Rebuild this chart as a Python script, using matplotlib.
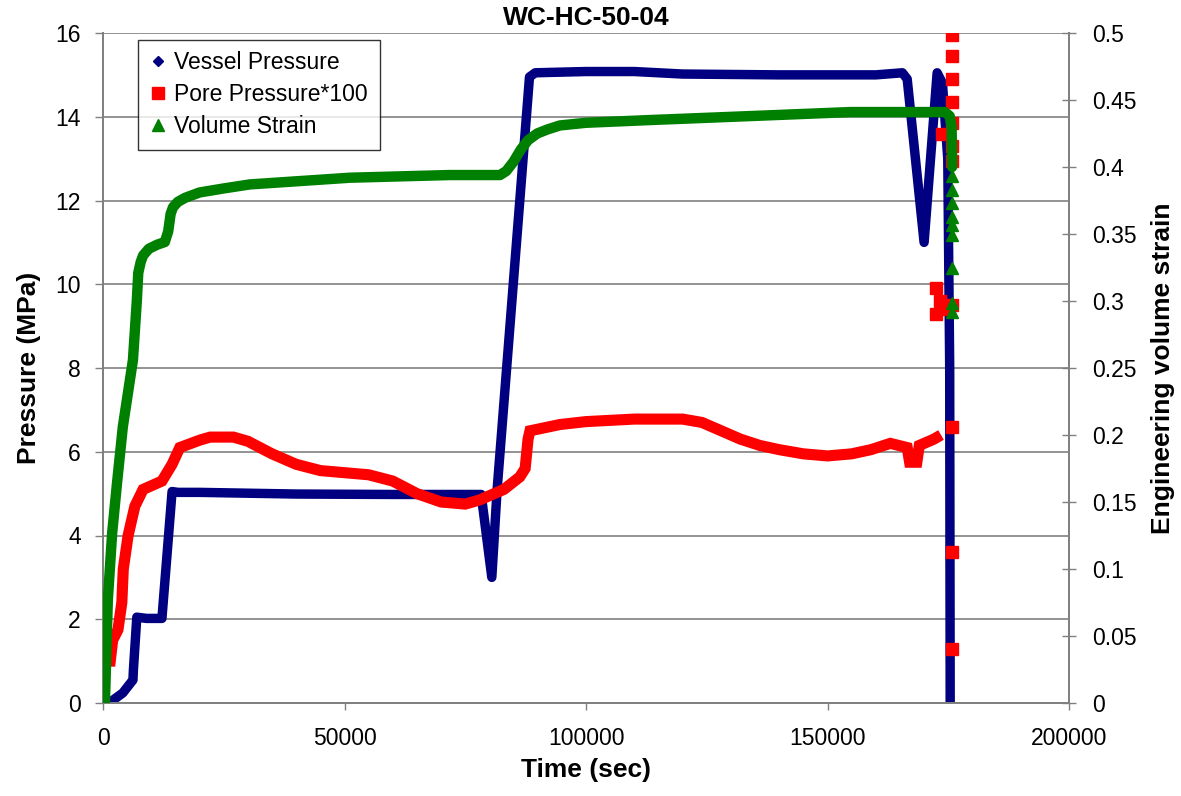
import matplotlib
matplotlib.use("Agg")
import matplotlib.pyplot as plt
from matplotlib.lines import Line2D

plt.rcParams['font.family'] = ['Liberation Sans', 'DejaVu Sans']

title = "WC-HC-50-04"
xlabel = "Time (sec)"
ylabel_left = "Pressure (MPa)"
ylabel_right = "Engineering volume strain"
series_names = ["Vessel Pressure", "Pore Pressure*100", "Volume Strain"]

# Vessel pressure (MPa)
vessel_t = [0, 1500, 4100, 6200, 6300, 7000, 9000, 12200, 14300, 15500, 20000, 40000, 60000,
            78300, 80500, 81600, 88300, 89500, 100000, 110000, 120000, 140000, 160000,
            165500, 166500, 170000, 172700, 173800, 174900, 175300, 175400]
vessel_p = [0.0, 0.02, 0.24, 0.55, 0.8, 2.05, 2.02, 2.02, 5.05, 5.03, 5.03, 4.99, 4.98,
            4.98, 3.0, 5.1, 14.95, 15.05, 15.08, 15.08, 15.02, 15.0, 15.0,
            15.05, 14.9, 11.0, 15.05, 14.8, 13.0, 8.0, 0.0]

# Pore pressure * 100 (MPa)
pore_t = [0, 1500, 2000, 3100, 3900, 4200, 5200, 6600, 8300, 12200, 14300, 15900, 20100,
          22200, 27000, 30000, 35000, 40000, 45000, 50000, 55000, 60000, 65000, 70000,
          75000, 78000, 80000, 83000, 86300, 87400, 88000, 88400, 94600, 100000, 110000,
          120000, 124000, 128000, 132000, 136000, 140000, 145000, 150000, 155000, 159000,
          163000, 166500, 167000, 168500, 169000, 172000, 173500]
pore_p = [1.0, 1.0, 1.5, 1.75, 2.4, 3.2, 4.0, 4.7, 5.1, 5.3, 5.7, 6.1, 6.28,
          6.35, 6.35, 6.25, 5.95, 5.7, 5.55, 5.5, 5.45, 5.3, 5.0, 4.8,
          4.75, 4.85, 4.95, 5.1, 5.4, 5.6, 6.3, 6.5, 6.65, 6.72, 6.78,
          6.78, 6.7, 6.5, 6.3, 6.15, 6.05, 5.95, 5.9, 5.95, 6.05,
          6.2, 6.1, 5.75, 5.75, 6.15, 6.3, 6.4]
# Pore pressure scattered points at the end of the test
pore_tail_t = [175800, 175800, 175800, 175800, 175800, 175800, 175800, 173700,
               172500, 172500, 173200, 174000, 175800, 175800, 175800, 175800]
pore_tail_p = [15.95, 15.45, 14.9, 14.35, 13.85, 13.3, 12.95, 13.6,
               9.3, 9.9, 9.6, 9.4, 9.5, 6.6, 3.6, 1.3]

# Volume strain (right axis)
strain_t = [400, 1000, 1900, 2900, 4100, 6200, 7000, 7300, 7800, 8300, 9500, 11200, 12800,
            13500, 14000, 14500, 15500, 17000, 20000, 25000, 30400, 51100, 71800, 82200,
            83500, 85000, 86500, 88000, 89900, 92000, 94600, 100000, 113000, 134000,
            154700, 174300, 175300, 175700, 175800]
strain_v = [0.0, 0.077, 0.127, 0.164, 0.206, 0.256, 0.30, 0.321, 0.329, 0.334, 0.339,
            0.342, 0.344, 0.352, 0.365, 0.370, 0.374, 0.377, 0.381, 0.384, 0.387, 0.392,
            0.394, 0.394, 0.397, 0.404, 0.413, 0.42, 0.425, 0.428, 0.431, 0.433, 0.435,
            0.438, 0.441, 0.441, 0.438, 0.43, 0.40]
strain_tail_t = [175800] * 9
strain_tail_v = [0.393, 0.383, 0.373, 0.363, 0.357, 0.349, 0.325, 0.2985, 0.292]

blue = "#000080"
red = "#FF0000"
green = "#008000"
gray = "#808080"

fig = plt.figure(figsize=(11.81, 7.96), dpi=100)
ax = fig.add_axes([103/1181, 93/796, 966/1181, 670/796])
ax2 = ax.twinx()

ax.plot(vessel_t, vessel_p, color=blue, lw=6.8, solid_joinstyle='round',
        solid_capstyle='round', zorder=2)
ax.plot(pore_t, pore_p, color=red, lw=8.0, solid_joinstyle='miter',
        solid_capstyle='butt', zorder=3)
ax.plot(pore_tail_t, pore_tail_p, ls='none', marker='s', ms=8.5, color=red, mec=red, zorder=3)

ax2.plot(strain_t, strain_v, color=green, lw=7.5, solid_joinstyle='round',
         solid_capstyle='round', zorder=3)
ax2.plot(strain_tail_t, strain_tail_v, ls='none', marker='^', ms=8, color=green, mec=green,
         zorder=3)

ax.set_xlim(0, 200000)
ax.set_ylim(0, 16)
ax2.set_ylim(0, 0.5)
ax.set_xticks([0, 50000, 100000, 150000, 200000])
ax.set_yticks(range(0, 17, 2))
ax2.set_yticks([0, 0.05, 0.1, 0.15, 0.2, 0.25, 0.3, 0.35, 0.4, 0.45, 0.5])
ax2.set_yticklabels(["0", "0.05", "0.1", "0.15", "0.2", "0.25", "0.3", "0.35",
                     "0.4", "0.45", "0.5"])
ax.set_xticklabels(["0", "50000", "100000", "150000", "200000"])

ax.grid(axis='y', color=gray, lw=1.2, zorder=0)
ax.set_axisbelow(True)

for a in (ax, ax2):
    a.spines['top'].set_visible(False)
    for s in ('left', 'right', 'bottom'):
        a.spines[s].set_color(gray)
        a.spines[s].set_linewidth(1.3)

ax.tick_params(axis='x', direction='out', length=5, width=1, color=gray,
               labelsize=16.5, pad=12)
ax.tick_params(axis='y', direction='out', length=6, width=1, color=gray,
               labelsize=16.5, pad=10)
ax2.tick_params(axis='y', direction='inout', length=10, width=1, color=gray,
                labelsize=16.5, pad=12)

ax.set_xlabel(xlabel, fontsize=19, fontweight='bold', labelpad=6)
ax.set_ylabel(ylabel_left, fontsize=19, fontweight='bold', labelpad=10)
ax2.set_ylabel(ylabel_right, fontsize=19, fontweight='bold', labelpad=10)
ax.set_title(title, fontsize=19, fontweight='bold', pad=6)

handles = [
    Line2D([], [], ls='none', marker='D', ms=5, color=blue),
    Line2D([], [], ls='none', marker='s', ms=8, color=red),
    Line2D([], [], ls='none', marker='^', ms=8, color=green),
]
leg = ax2.legend(handles, series_names, loc='upper left', bbox_to_anchor=(0.036, 0.99),
                 fontsize=16.5, frameon=True, fancybox=False, edgecolor='black',
                 handlelength=0.8, handletextpad=0.3, borderpad=0.5, labelspacing=0.4,
                 borderaxespad=0)
leg.get_frame().set_linewidth(1.0)

fig.savefig("out.png", dpi=100)
